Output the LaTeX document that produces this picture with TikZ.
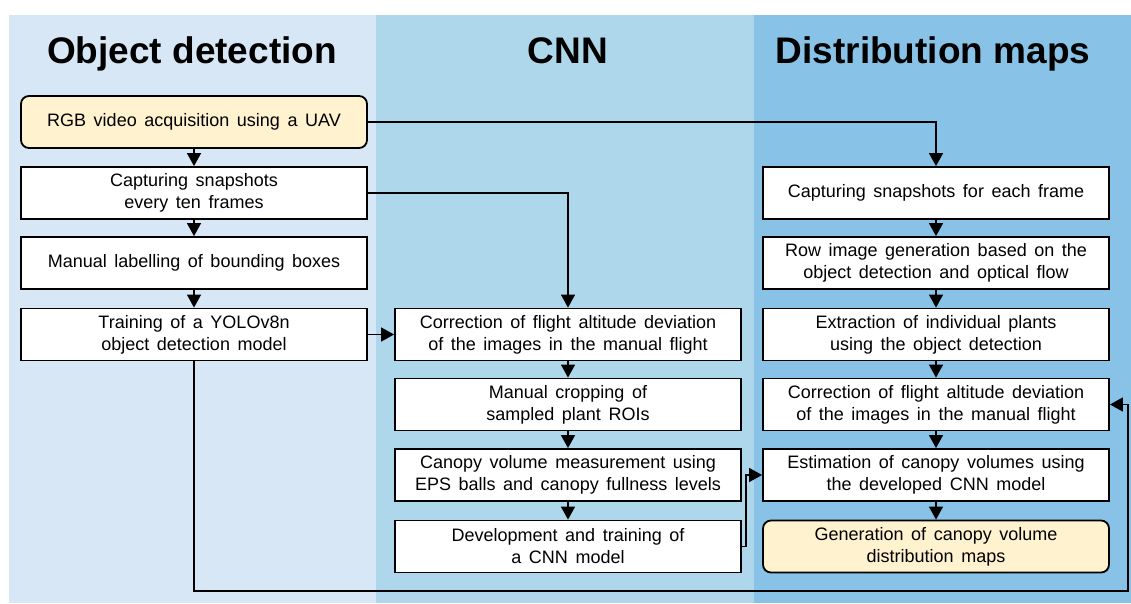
\documentclass[tikz,border=0pt]{standalone}
\usepackage{fontspec}
\setmainfont{Liberation Sans}
\usetikzlibrary{arrows.meta}
\definecolor{bgA}{HTML}{D7E7F5}
\definecolor{bgB}{HTML}{AFD7EC}
\definecolor{bgC}{HTML}{88C3E7}
\definecolor{startfill}{HTML}{FFF2CF}
\newcommand\bodyfnt{\fontsize{18}{22}\selectfont\spaceskip=0.42em plus 0.05em\relax}
\newcommand\headfnt{\fontsize{37}{40}\selectfont\bfseries}
\tikzset{
  procbox/.style={draw=black, line width=1.8pt, fill=white, minimum width=346pt, minimum height=52pt,
    inner sep=0pt, align=center, font=\bodyfnt},
  termbox/.style={procbox, fill=startfill, rounded corners=8pt},
  header/.style={anchor=base, font=\headfnt, inner sep=0pt},
  arr/.style={draw=black, line width=1.4pt, -{Triangle[length=13pt,width=14pt]}},
}
\begin{document}
\begin{tikzpicture}[x=1pt,y=-1pt]
\useasboundingbox (0,0) rectangle (1131,603);
% panels
\fill[bgA] (9,15) rectangle (376,603);
\fill[bgB] (376,15) rectangle (754,603);
\fill[bgC] (754,15) rectangle (1131,603);
% headers
\node[header] (hA) at (192,63) {Object detection};
\node[header] (hB) at (568,63) {CNN};
\node[header] (hC) at (933,63) {Distribution maps};
% left column
\node[termbox] (a1) at (194,122) {RGB video acquisition using a UAV};
\node[procbox] (a2) at (194,193) {Capturing snapshots\\every ten frames};
\node[procbox] (a3) at (194,263) {Manual labelling of bounding boxes};
\node[procbox] (a4) at (194,334.5) {Training of a YOLOv8n\\object detection model};
% middle column
\node[procbox] (b1) at (568,334.5) {Correction of flight altitude deviation\\of the images in the manual flight};
\node[procbox] (b2) at (568,404.5) {Manual cropping of\\sampled plant ROIs};
\node[procbox] (b3) at (568,475) {Canopy volume measurement using\\EPS balls and canopy fullness levels};
\node[procbox] (b4) at (568,546.5) {Development and training of\\a CNN model};
% right column
\node[procbox] (c1) at (936,193) {Capturing snapshots for each frame};
\node[procbox] (c2) at (936,263) {Row image generation based on the\\object detection and optical flow};
\node[procbox] (c3) at (936,334.5) {Extraction of individual plants\\using the object detection};
\node[procbox] (c4) at (936,404.5) {Correction of flight altitude deviation\\of the images in the manual flight};
\node[procbox] (c5) at (936,475) {Estimation of canopy volumes using\\the developed CNN model};
\node[termbox] (c6) at (936,546.5) {Generation of canopy volume\\distribution maps};
% vertical arrows
\draw[arr] (a1.south) -- (a2.north);
\draw[arr] (a2.south) -- (a3.north);
\draw[arr] (a3.south) -- (a4.north);
\draw[arr] (b1.south) -- (b2.north);
\draw[arr] (b2.south) -- (b3.north);
\draw[arr] (b3.south) -- (b4.north);
\draw[arr] (c1.south) -- (c2.north);
\draw[arr] (c2.south) -- (c3.north);
\draw[arr] (c3.south) -- (c4.north);
\draw[arr] (c4.south) -- (c5.north);
\draw[arr] (c5.south) -- (c6.north);
% cross connectors
\draw[arr] (a1.east) -| (c1.north);
\draw[arr] (a2.east) -| (b1.north);
\draw[arr] (a4.east) -- (b1.west);
\coordinate (lb) at (194,591);
\coordinate (rb) at (1128,591);
\draw[arr] (a4.south) -- (a4.south |- lb) -- (rb) |- (c4.east);
\coordinate (mj) at (746,546.5);
\draw[arr] (b4.east) -- (mj) |- (c5.west);
\end{tikzpicture}
\end{document}
